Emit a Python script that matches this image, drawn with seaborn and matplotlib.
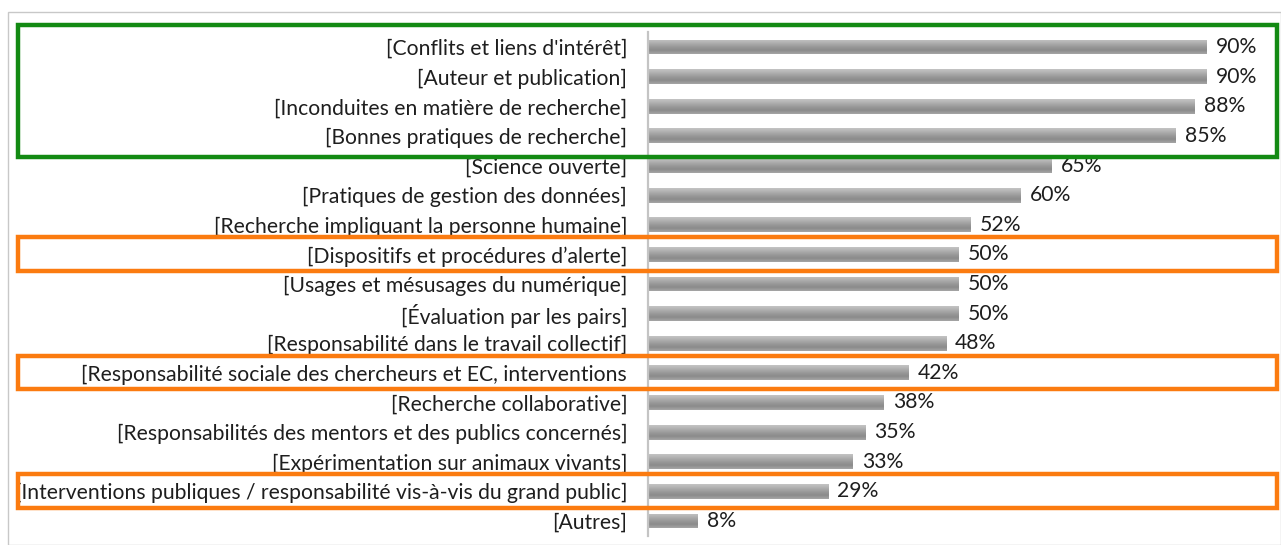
import matplotlib
matplotlib.use("Agg")
import matplotlib.pyplot as plt
import matplotlib.transforms as mtransforms
from matplotlib.patches import Rectangle
from matplotlib.colors import LinearSegmentedColormap
import numpy as np
import seaborn as sns
import pandas as pd

categories = [
    "[Conflits et liens d'intérêt]",
    "[Auteur et publication]",
    "[Inconduites en matière de recherche]",
    "[Bonnes pratiques de recherche]",
    "[Science ouverte]",
    "[Pratiques de gestion des données]",
    "[Recherche impliquant la personne humaine]",
    "[Dispositifs et procédures d’alerte]",
    "[Usages et mésusages du numérique]",
    "[Évaluation par les pairs]",
    "[Responsabilité dans le travail collectif]",
    "[Responsabilité sociale des chercheurs et EC, interventions",
    "[Recherche collaborative]",
    "[Responsabilités des mentors et des publics concernés]",
    "[Expérimentation sur animaux vivants]",
    "[Interventions publiques / responsabilité vis-à-vis du grand public]",
    "[Autres]",
]
values = [90, 90, 88, 85, 65, 60, 52, 50, 50, 50, 48, 42, 38, 35, 33, 29, 8]
value_labels = [f"{v}%" for v in values]
green_rows = (0, 3)
orange_rows = [7, 11, 15]

df = pd.DataFrame({"cat": categories, "val": values})

sns.set_theme(style="white")
plt.rcParams["font.family"] = ["Lato", "DejaVu Sans"]

W, H = 1281, 545
fig = plt.figure(figsize=(W / 100, H / 100), dpi=100)
ax = fig.add_axes([648 / W, 1 - 535.8 / H, 621 / W, (535.8 - 32.2) / H])

sns.barplot(data=df, y="cat", x="val", orient="h", color="#a0a0a0", width=0.5,
            saturation=1, ax=ax, edgecolor="none")

ax.set_xlim(0, 100)
ax.set_ylim(len(categories) - 0.5, -0.5)

# cylinder-like vertical gradient on every bar, clipped to the bar patch
grad_cmap = LinearSegmentedColormap.from_list(
    "bar", ["#c4c4c4", "#b0b0b0", "#9a9a9a", "#8a8a8a", "#a6a6a6"])
grad = np.linspace(0, 1, 64).reshape(-1, 1)
for p in list(ax.patches):
    x, y, w, h = p.get_x(), p.get_y(), p.get_width(), p.get_height()
    im = ax.imshow(grad, cmap=grad_cmap, aspect="auto", origin="upper",
                   extent=(x, x + w, y + h, y), zorder=p.get_zorder() + 0.1,
                   interpolation="bilinear")
    im.set_clip_path(p)
ax.set_xlim(0, 100)
ax.set_ylim(len(categories) - 0.5, -0.5)

ax.set_xlabel("")
ax.set_ylabel("")
ax.set_xticks([])
ax.tick_params(axis="y", length=0, pad=15, labelsize=15.2, labelcolor="#1e1e1e")
for s in ["top", "right", "bottom"]:
    ax.spines[s].set_visible(False)
ax.spines["left"].set_color("#c4c4c4")
ax.spines["left"].set_linewidth(1.6)

for i, (v, lab) in enumerate(zip(values, value_labels)):
    ax.annotate(lab, xy=(v, i), xytext=(6.5, 0), textcoords="offset points",
                va="center", ha="left", fontsize=15.2, color="#1e1e1e")

# outer light frame
fig.patches.append(Rectangle((8 / W, 0), (W - 8) / W, 1 - 12 / H, transform=fig.transFigure,
                             fill=False, edgecolor="#c8c8c8", linewidth=1.0))

# highlight boxes: x in figure coords, y in data coords
trans = mtransforms.blended_transform_factory(fig.transFigure, ax.transData)
x0, x1 = 18 / W, 1277 / W
g0, g1 = green_rows
ax.add_patch(Rectangle((x0, g0 - 0.74), x1 - x0, (g1 + 0.71) - (g0 - 0.74), transform=trans,
                       fill=False, edgecolor="#138a13", linewidth=3.2, clip_on=False, zorder=5))
for r in orange_rows:
    ax.add_patch(Rectangle((x0, r - 0.57), x1 - x0, 1.12, transform=trans,
                           fill=False, edgecolor="#fb7b10", linewidth=3.2, clip_on=False, zorder=5))

fig.savefig("out.png", dpi=100)
